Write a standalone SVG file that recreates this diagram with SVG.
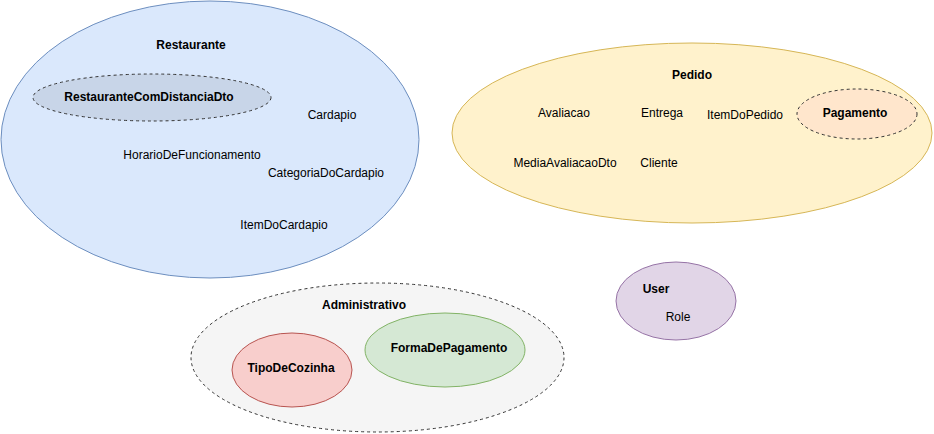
<svg xmlns="http://www.w3.org/2000/svg" width="934" height="434" viewBox="0 0 934 434">
<style>
text{font-family:"Liberation Sans",Arial,sans-serif;font-size:12px;fill:#000;text-anchor:middle}
.b{font-weight:bold}
.dash{stroke-dasharray:3 3;stroke:#333}
</style>
<rect width="934" height="434" fill="#fff"/>
<g id="restaurante">
<ellipse cx="210" cy="139.5" rx="209" ry="138.5" fill="#dae8fc" stroke="#6c8ebf"/>
<text class="b" x="191" y="49">Restaurante</text>
<text x="332" y="119">Cardapio</text>
<text x="192" y="159">HorarioDeFuncionamento</text>
<text x="326" y="177">CategoriaDoCardapio</text>
<text x="284" y="229">ItemDoCardapio</text>
</g>
<g id="restauranteComDistanciaDto">
<ellipse cx="152" cy="97.5" rx="119" ry="23.5" fill="#c8d5e8" class="dash"/>
<text class="b" x="149" y="101">RestauranteComDistanciaDto</text>
</g>
<g id="pedido">
<ellipse cx="692" cy="133" rx="240" ry="90" fill="#fff2cc" stroke="#d6b656"/>
<text class="b" x="692" y="79">Pedido</text>
<text x="564" y="117">Avaliacao</text>
<text x="662" y="117">Entrega</text>
<text x="745" y="119">ItemDoPedido</text>
<text x="565" y="167">MediaAvaliacaoDto</text>
<text x="659" y="167">Cliente</text>
</g>
<g id="pagamento">
<ellipse cx="857" cy="114" rx="60" ry="25" fill="#ffe6cc" class="dash"/>
<text class="b" x="855" y="117">Pagamento</text>
</g>
<g id="administrativo">
<ellipse cx="377.5" cy="357.5" rx="186.5" ry="74.5" fill="#f5f5f5" class="dash"/>
<text class="b" x="364" y="309">Administrativo</text>
</g>
<g id="tipoDeCozinha">
<ellipse cx="292" cy="370" rx="60" ry="37" fill="#f8cecc" stroke="#b85450"/>
<text class="b" x="291" y="372">TipoDeCozinha</text>
</g>
<g id="formaDePagamento">
<ellipse cx="445" cy="350" rx="80" ry="37" fill="#d5e8d4" stroke="#82b366"/>
<text class="b" x="449" y="352">FormaDePagamento</text>
</g>
<g id="user">
<ellipse cx="676" cy="301" rx="60" ry="39" fill="#e1d5e7" stroke="#9673a6"/>
<text class="b" x="656" y="293">User</text>
<text x="678" y="321">Role</text>
</g>
<g id="connectors"/>
</svg>
